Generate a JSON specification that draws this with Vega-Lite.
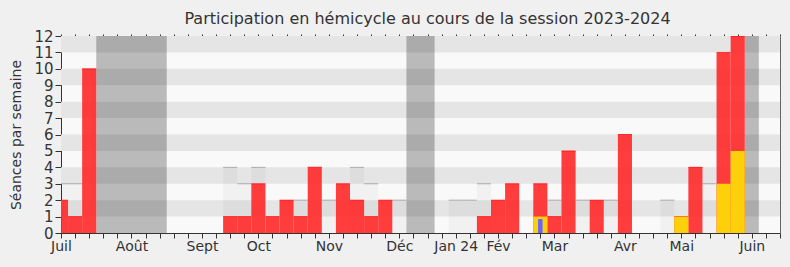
{
  "$schema": "https://vega.github.io/schema/vega-lite/v6.json",
  "autosize": "none",
  "width": 719,
  "height": 197,
  "padding": {"left": 61, "top": 36, "right": 10, "bottom": 34},
  "background": "#f0f0f0",
  "config": {
    "font": "DejaVu Sans",
    "view": {"stroke": null, "fill": "#f9f9f9"},
    "axis": {"labelColor": "#333", "tickColor": "#333", "domainColor": "#333", "titleColor": "#333", "grid": false, "labelFont": "DejaVu Sans", "titleFont": "DejaVu Sans"}
  },
  "title": {"text": "Participation en hémicycle au cours de la session 2023-2024", "fontSize": 16, "fontWeight": "normal", "color": "#333", "font": "DejaVu Sans", "anchor": "middle", "dx": 7, "offset": 2},
  "datasets": {
    "stripes": [{"lo": 1, "hi": 2}, {"lo": 3, "hi": 4}, {"lo": 5, "hi": 6}, {"lo": 7, "hi": 8}, {"lo": 9, "hi": 10}, {"lo": 11, "hi": 12}],
    "vacances": [{"debut": 2.5, "fin": 7.5}, {"debut": 24.5, "fin": 26.5}, {"debut": 48.5, "fin": 49.5}],
    "max": [
      {"semaine": 0, "seances": 3}, {"semaine": 1, "seances": 3}, {"semaine": 12, "seances": 4}, {"semaine": 13, "seances": 3}, {"semaine": 14, "seances": 4},
      {"semaine": 17, "seances": 2}, {"semaine": 19, "seances": 2}, {"semaine": 21, "seances": 4}, {"semaine": 22, "seances": 3}, {"semaine": 24, "seances": 2},
      {"semaine": 28, "seances": 2}, {"semaine": 29, "seances": 2}, {"semaine": 30, "seances": 3}, {"semaine": 35, "seances": 2}, {"semaine": 37, "seances": 2},
      {"semaine": 39, "seances": 2}, {"semaine": 43, "seances": 2}, {"semaine": 46, "seances": 3}
    ],
    "presences": [
      {"semaine": 0, "seances": 2}, {"semaine": 1, "seances": 1}, {"semaine": 2, "seances": 10}, {"semaine": 12, "seances": 1}, {"semaine": 13, "seances": 1},
      {"semaine": 14, "seances": 3}, {"semaine": 15, "seances": 1}, {"semaine": 16, "seances": 2}, {"semaine": 17, "seances": 1}, {"semaine": 18, "seances": 4},
      {"semaine": 20, "seances": 3}, {"semaine": 21, "seances": 2}, {"semaine": 22, "seances": 1}, {"semaine": 23, "seances": 2}, {"semaine": 30, "seances": 1},
      {"semaine": 31, "seances": 2}, {"semaine": 32, "seances": 3}, {"semaine": 34, "seances": 3}, {"semaine": 35, "seances": 1}, {"semaine": 36, "seances": 5},
      {"semaine": 38, "seances": 2}, {"semaine": 40, "seances": 6}, {"semaine": 44, "seances": 1}, {"semaine": 45, "seances": 4}, {"semaine": 47, "seances": 11},
      {"semaine": 48, "seances": 12}
    ],
    "interventions": [{"semaine": 34, "seances": 1}, {"semaine": 44, "seances": 1}, {"semaine": 47, "seances": 3}, {"semaine": 48, "seances": 5}],
    "questions": [{"semaine": 34, "seances": 0.85}]
  },
  "layer": [
    {
      "data": {"name": "stripes"},
      "mark": {"type": "rect", "color": "#e5e5e5"},
      "encoding": {
        "y": {"field": "lo", "type": "quantitative", "scale": {"domain": [0, 12], "nice": false, "zero": true},
          "axis": {"orient": "right", "labels": false, "ticks": false, "title": null, "domainColor": "#666"}},
        "y2": {"field": "hi"}
      }
    },
    {
      "data": {"name": "vacances"},
      "mark": {"type": "rect", "color": "#000", "opacity": 0.25, "clip": true},
      "encoding": {
        "x": {"field": "debut", "type": "quantitative", "scale": {"domain": [0, 51], "nice": false, "zero": false, "padding": 0},
          "axis": {"orient": "top", "values": [0,1,2,3,4,5,6,7,8,9,10,11,12,13,14,15,16,17,18,19,20,21,22,23,24,25,26,27,28,29,30,31,32,33,34,35,36,37,38,39,40,41,42,43,44,45,46,47,48,49,50,51], "labels": false, "domain": false, "tickSize": 2, "title": null}},
        "x2": {"field": "fin"}
      }
    },
    {
      "data": {"name": "max"},
      "mark": {"type": "bar", "size": 14.1, "color": "#000", "opacity": 0.03, "clip": true},
      "encoding": {
        "x": {"field": "semaine", "type": "quantitative", "axis": null},
        "y": {"field": "seances", "type": "quantitative", "axis": null}
      }
    },
    {
      "data": {"name": "max"},
      "mark": {"type": "tick", "orient": "horizontal", "size": 14.1, "thickness": 1, "color": "#aaaaaa", "opacity": 1, "clip": true},
      "encoding": {
        "x": {"field": "semaine", "type": "quantitative", "axis": null},
        "y": {"field": "seances", "type": "quantitative", "axis": null}
      }
    },
    {
      "data": {"name": "presences"},
      "mark": {"type": "bar", "size": 14.1, "color": "#ff2828", "opacity": 0.9, "clip": true},
      "encoding": {
        "x": {"field": "semaine", "type": "quantitative",
          "axis": {"orient": "bottom", "values": [0,1,2,3,4,5,6,7,8,9,10,11,12,13,14,15,16,17,18,19,20,21,22,23,24,25,26,27,28,29,30,31,32,33,34,35,36,37,38,39,40,41,42,43,44,45,46,47,48,49,50,51],
            "labelExpr": "datum.value==0?'Juil':datum.value==5?'Août':datum.value==10?'Sept':datum.value==14?'Oct':datum.value==19?'Nov':datum.value==24?'Déc':datum.value==28?'Jan 24':datum.value==31?'Fév':datum.value==35?'Mar':datum.value==40?'Avr':datum.value==44?'Mai':datum.value==49?'Juin':''",
            "labelFontSize": 14, "labelOverlap": false, "labelFlush": false, "labelBound": false, "tickSize": 5, "labelPadding": 1, "title": null}},
        "y": {"field": "seances", "type": "quantitative",
          "axis": {"orient": "left", "values": [0,1,2,3,4,5,6,7,8,9,10,11,12], "labelFontSize": 15, "tickSize": 6, "labelPadding": 2,
            "title": "Séances par semaine", "titleFontSize": 14, "titleFontWeight": "normal", "titlePadding": 10}}
      }
    },
    {
      "data": {"name": "presences"},
      "mark": {"type": "tick", "orient": "horizontal", "size": 14.1, "thickness": 1, "color": "#ff0000", "clip": true},
      "encoding": {
        "x": {"field": "semaine", "type": "quantitative", "axis": null},
        "y": {"field": "seances", "type": "quantitative", "axis": null}
      }
    },
    {
      "data": {"name": "interventions"},
      "mark": {"type": "bar", "size": 14.1, "color": "#fdd00a", "clip": true},
      "encoding": {
        "x": {"field": "semaine", "type": "quantitative", "axis": null},
        "y": {"field": "seances", "type": "quantitative", "axis": null}
      }
    },
    {
      "data": {"name": "questions"},
      "mark": {"type": "bar", "size": 4.5, "color": "#6666ff", "clip": true},
      "encoding": {
        "x": {"field": "semaine", "type": "quantitative", "axis": null},
        "y": {"field": "seances", "type": "quantitative", "axis": null}
      }
    }
  ]
}
